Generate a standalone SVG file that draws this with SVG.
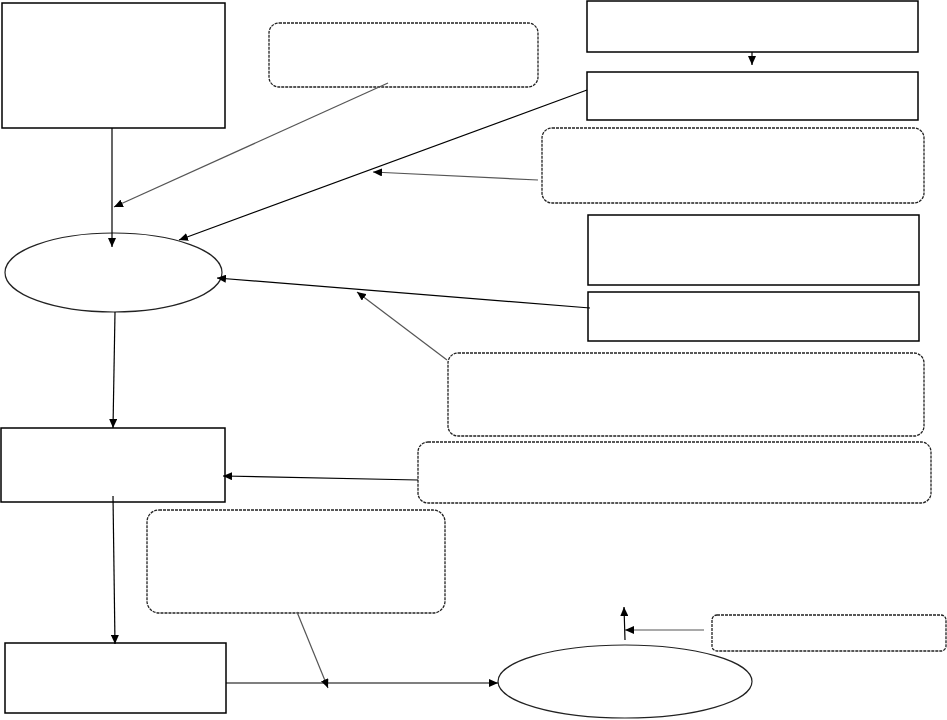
<svg xmlns="http://www.w3.org/2000/svg" width="947" height="720" viewBox="0 0 947 720">
<style>
.box{fill:#fff;stroke:#000;stroke-width:1.5}
.dbox{fill:#fff;stroke:#222;stroke-width:1.3;stroke-dasharray:3 1}
.ell{fill:#fff;stroke:#222;stroke-width:1.2}
.c{fill:none;stroke:#000;stroke-width:1.2}
.g{fill:none;stroke:#555;stroke-width:1.2}
</style>
<defs>
<marker id="ah" markerUnits="userSpaceOnUse" markerWidth="10" markerHeight="8" refX="9" refY="4" orient="auto">
<path d="M0,0 L9,4 L0,8 Z" fill="#000"/>
</marker>
</defs>
<rect width="947" height="720" fill="#fff"/>
<g id="nodes">
<g id="n1"><rect class="box" x="2" y="3" width="223" height="125"/></g>
<g id="n2"><rect class="dbox" x="269" y="23" width="269" height="64" rx="10"/></g>
<g id="n3"><rect class="box" x="587" y="1" width="331" height="51"/></g>
<g id="n4"><rect class="box" x="587" y="72" width="331" height="48"/></g>
<g id="n5"><rect class="dbox" x="542" y="128" width="382" height="75" rx="10"/></g>
<g id="n6"><rect class="box" x="588" y="215" width="331" height="70"/></g>
<g id="n7"><rect class="box" x="588" y="292" width="331" height="49"/></g>
<g id="n8"><rect class="dbox" x="448" y="353" width="476" height="83" rx="10"/></g>
<g id="n9"><rect class="dbox" x="418" y="442" width="513" height="61" rx="10"/></g>
<g id="n10"><ellipse class="ell" cx="113.5" cy="272.5" rx="108.5" ry="39.5"/></g>
<g id="n11"><rect class="box" x="1" y="428" width="224" height="74"/></g>
<g id="n12"><rect class="dbox" x="147" y="510" width="298" height="103" rx="12"/></g>
<g id="n13"><rect class="box" x="5" y="643" width="221" height="70"/></g>
<g id="n14"><ellipse class="ell" cx="625" cy="681.5" rx="127" ry="36.5"/></g>
<g id="n15"><rect class="dbox" x="712" y="615" width="234" height="36" rx="5"/></g>
</g>
<g id="connectors">
<line class="c" x1="112" y1="128" x2="112" y2="247" marker-end="url(#ah)"/>
<line class="g" x1="388" y1="83" x2="114" y2="207" marker-end="url(#ah)"/>
<line class="c" x1="587" y1="90" x2="179" y2="240" marker-end="url(#ah)"/>
<line class="g" x1="538" y1="180" x2="373" y2="172" marker-end="url(#ah)"/>
<line class="c" x1="752" y1="52" x2="752" y2="65" marker-end="url(#ah)"/>
<line class="c" x1="590" y1="308" x2="217" y2="278" marker-end="url(#ah)"/>
<line class="g" x1="447" y1="360" x2="357" y2="292" marker-end="url(#ah)"/>
<line class="c" x1="115" y1="312" x2="113" y2="428" marker-end="url(#ah)"/>
<line class="c" x1="418" y1="480" x2="223" y2="476" marker-end="url(#ah)"/>
<line class="c" x1="113" y1="496" x2="115" y2="644" marker-end="url(#ah)"/>
<line class="c" x1="226" y1="683" x2="498" y2="683" marker-end="url(#ah)"/>
<line class="g" x1="297" y1="612" x2="328" y2="688" marker-end="url(#ah)"/>
<line class="c" x1="625" y1="640" x2="624" y2="607" marker-end="url(#ah)"/>
<line class="g" x1="704" y1="630" x2="625" y2="630" marker-end="url(#ah)"/>
</g>
</svg>
